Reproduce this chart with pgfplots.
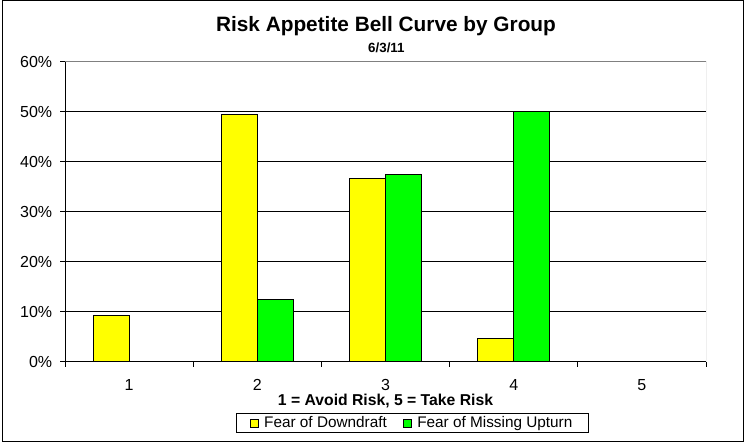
\documentclass[border=0pt]{standalone}
\usepackage{pgfplots}
\pgfplotsset{compat=1.18}
\usepackage{fontspec}
\setmainfont{Liberation Sans}
\definecolor{barYellow}{RGB}{255,255,0}
\definecolor{barGreen}{RGB}{0,255,0}
\definecolor{borderGray}{RGB}{128,128,128}
\begin{document}
\begin{tikzpicture}
\fill[white] (0,0) rectangle (558.75pt,333.75pt);
\useasboundingbox (0,0) rectangle (558.75pt,333.75pt);
\draw[line width=0.9pt] (1.875pt,2.625pt) rectangle (557.6pt,333.2pt);
\begin{axis}[
  at={(48.75pt,62.25pt)}, anchor=south west,
  scale only axis, width=480.75pt, height=225pt,
  xmin=0.5, xmax=5.5, ymin=0, ymax=60,
  ybar=0pt, bar width=27pt,
  axis line style={draw=none},
  ytick={0,10,...,60},
  yticklabels={0\%,10\%,20\%,30\%,40\%,50\%,60\%},
  ymajorgrids, grid style={black, line width=0.75pt},
  xtick={0.5,1.5,...,5.5}, xticklabels={},
  extra x ticks={1,2,3,4,5}, extra x tick labels={1,2,3,4,5},
  extra x tick style={major tick length=0pt, grid=none,
     xticklabel style={anchor=base, yshift=-21.5pt}},
  tick align=outside, major tick length=3.75pt,
  tick pos=left,
  tick style={black, line width=0.75pt},
  ticklabel style={font=\fontsize{12}{14}\selectfont},
  yticklabel style={xshift=-2.3pt},
  xlabel={1 = Avoid Risk, 5 = Take Risk},
  xlabel style={at={(axis description cs:0.5,-0.1457)}, anchor=base,
     font=\bfseries\fontsize{11.8}{14}\selectfont},
  legend style={at={(axis description cs:0.542,-0.2033)}, anchor=center,
     legend columns=2, draw=black, line width=0.75pt,
     font=\fontsize{11.5}{13}\selectfont,
     /tikz/every even column/.append style={column sep=10pt},
     inner xsep=10pt, inner ysep=0.5pt},
  legend image code/.code={\draw[#1, line width=0.6pt] (0pt,-3pt) rectangle (6pt,3pt); \path[draw=none, fill=none] (0pt,0pt) -- (8.5pt,0pt);},
]
\addplot[fill=barYellow, draw=black, line width=0.75pt] coordinates {(1,9.3) (2,49.5) (3,36.6) (4,4.6) (5,0)};
\addlegendentry{Fear of Downdraft}
\addplot[fill=barGreen, draw=black, line width=0.75pt] coordinates {(1,0) (2,12.5) (3,37.5) (4,50) (5,0)};
\addlegendentry{Fear of Missing Upturn}
\draw[borderGray, line width=0.75pt] (rel axis cs:0,1) -- (rel axis cs:1,1) -- (rel axis cs:1,0);
\draw[black, line width=0.75pt] (rel axis cs:0,1) -- (rel axis cs:0,0) -- (rel axis cs:1,0);
\end{axis}
\node[anchor=base, font=\bfseries\fontsize{15.6}{18}\selectfont] at (289.5pt,310pt) {Risk Appetite Bell Curve by Group};
\node[anchor=base, font=\bfseries\fontsize{10}{12}\selectfont] at (289.8pt,294.5pt) {6/3/11};
\end{tikzpicture}
\end{document}
